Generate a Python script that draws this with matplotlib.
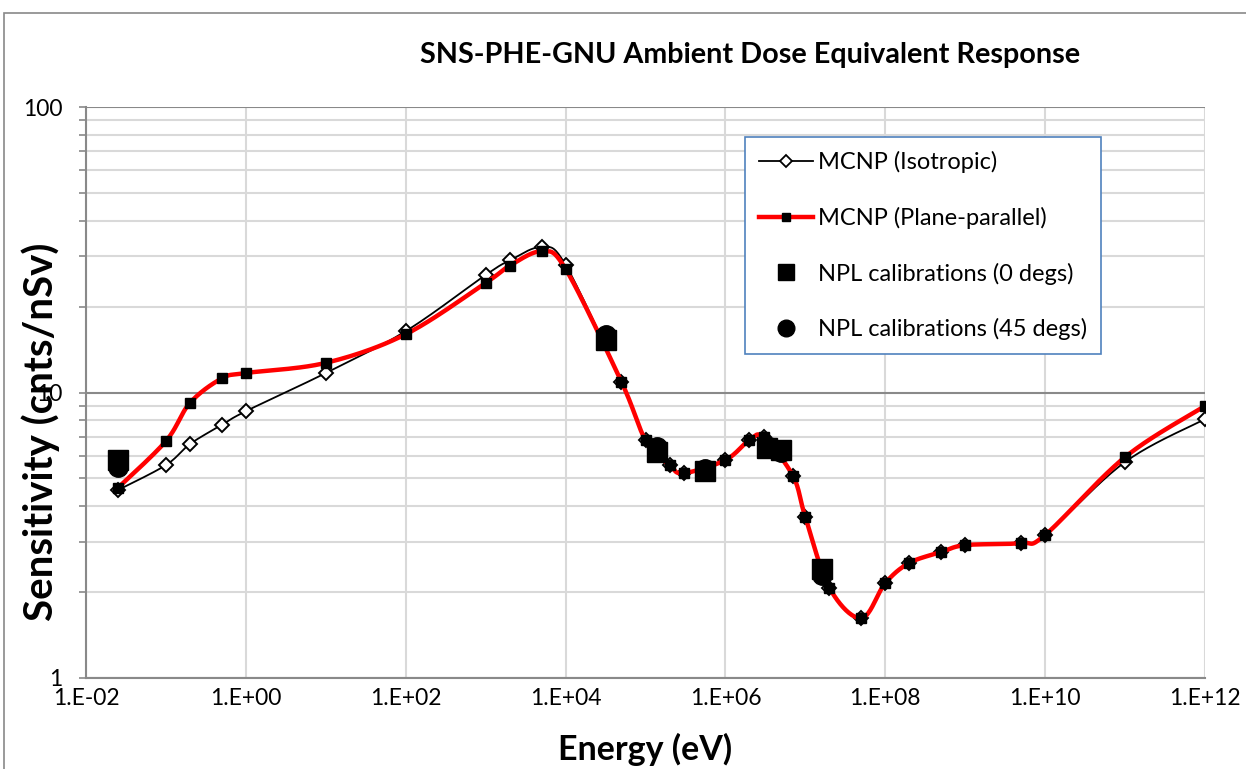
import numpy as np
import matplotlib
matplotlib.use('Agg')
import matplotlib.pyplot as plt
from matplotlib.lines import Line2D
from matplotlib.patches import Rectangle
from matplotlib.ticker import FixedLocator, FuncFormatter, NullFormatter

plt.rcParams['font.family'] = ['Lato', 'DejaVu Sans']

# MCNP isotropic response
iso_e = [0.025, 0.1, 0.2, 0.5, 1, 10, 100, 1e3, 2e3, 5e3, 1e4, 5e4, 1e5, 2e5, 3e5,
         1e6, 2e6, 3e6, 7e6, 1e7, 2e7, 5e7, 1e8, 2e8, 5e8, 1e9, 5e9, 1e10, 1e11, 1e12]
iso_r = [4.55, 5.57, 6.6, 7.7, 8.6, 11.7, 16.4, 25.8, 29.0, 32.3, 28.0, 10.9, 6.82, 5.57, 5.22,
         5.8, 6.82, 6.97, 5.1, 3.66, 2.07, 1.62, 2.15, 2.53, 2.76, 2.92, 2.97, 3.17, 5.71, 8.07]

# MCNP plane-parallel response
pp_e = iso_e
pp_r = [4.63, 6.76, 9.2, 11.2, 11.7, 12.7, 16.0, 24.2, 27.8, 31.2, 27.1, 10.9, 6.82, 5.57, 5.22,
        5.8, 6.82, 6.97, 5.1, 3.66, 2.07, 1.62, 2.15, 2.53, 2.76, 2.92, 2.97, 3.17, 5.94, 8.97]

# NPL calibrations
npl0_e = [0.025, 3.2e4, 1.41e5, 5.5e5, 3.3e6, 5e6, 1.6e7]
npl0_r = [5.8, 15.3, 6.2, 5.3, 6.4, 6.3, 2.41]
npl45_e = [0.025, 3.2e4, 1.41e5, 5.5e5, 3.3e6, 5e6, 1.6e7]
npl45_r = [5.48, 15.9, 6.45, 5.4, 6.5, 6.2, 2.3]


def smooth(x, y, n=24):
    # Excel-like smoothed line: cubic bezier through points in log-log space
    P = np.column_stack([np.log10(x), np.log10(y)])
    out = []
    for i in range(len(P) - 1):
        p0 = P[max(i - 1, 0)]
        p1 = P[i]
        p2 = P[i + 1]
        p3 = P[min(i + 2, len(P) - 1)]
        c1 = p1 + (p2 - p0) / 6
        c2 = p2 - (p3 - p1) / 6
        t = np.linspace(0, 1, n)[:, None]
        seg = (1 - t) ** 3 * p1 + 3 * (1 - t) ** 2 * t * c1 + 3 * (1 - t) * t ** 2 * c2 + t ** 3 * p2
        out.append(seg if i == 0 else seg[1:])
    out = np.vstack(out)
    return 10 ** out[:, 0], 10 ** out[:, 1]


fig = plt.figure(figsize=(12.46, 7.69), dpi=100)
ax = fig.add_axes([86 / 1246, 1 - 678 / 769, (1205 - 86) / 1246, (678 - 107) / 769])

ax.set_xscale('log')
ax.set_yscale('log')
ax.set_xlim(1e-2, 1e12)
ax.set_ylim(1, 100)

# grid
ax.xaxis.set_major_locator(FixedLocator(10.0 ** np.arange(-2, 13, 2)))
ax.xaxis.set_minor_locator(FixedLocator([]))
ax.xaxis.set_major_formatter(FuncFormatter(lambda v, p: '1.E%+03d' % int(round(np.log10(v)))))
ax.yaxis.set_major_locator(FixedLocator([1, 10, 100]))
ax.yaxis.set_minor_locator(FixedLocator([m * d for d in (1, 10) for m in range(2, 10)]))
ax.yaxis.set_major_formatter(FuncFormatter(lambda v, p: '%g' % v))
ax.yaxis.set_minor_formatter(NullFormatter())
ax.grid(True, axis='x', which='major', color='#d9d9d9', lw=1.5)
ax.grid(True, axis='y', which='minor', color='#d9d9d9', lw=1.5)
ax.grid(True, axis='y', which='major', color='#898989', lw=1.5)
ax.set_axisbelow(True)

for s in ['top', 'right']:
    ax.spines[s].set_visible(False)
ax.spines['left'].set_color('#898989')
ax.spines['bottom'].set_color('#898989')
ax.spines['left'].set_linewidth(1.5)
ax.spines['bottom'].set_linewidth(1.5)
ax.tick_params(axis='y', which='both', direction='out', color='#898989', length=5, width=1.2,
               labelsize=16.5, pad=12)
ax.tick_params(axis='x', which='both', length=0, labelsize=16.5, pad=7)

# data
sx, sy = smooth(iso_e, iso_r)
ax.plot(sx, sy, color='black', lw=1.3, zorder=3)
ax.plot(iso_e, iso_r, ls='none', marker='D', ms=7, mfc='white', mec='black', mew=1.4, zorder=3)

sx, sy = smooth(pp_e, pp_r)
ax.plot(sx, sy, color='#ff0000', lw=3.2, zorder=4)
ax.plot(pp_e, pp_r, ls='none', marker='s', ms=7, color='black', zorder=4)

ax.plot(npl45_e, npl45_r, ls='none', marker='o', ms=14, color='black', zorder=5)
ax.plot(npl0_e, npl0_r, ls='none', marker='s', ms=14, color='black', zorder=5)

handles = [
    Line2D([], [], color='black', lw=1.3, marker='D', ms=6, mfc='white', mec='black', mew=1.3),
    Line2D([], [], color='#ff0000', lw=3.2, marker='s', ms=6, mfc='black', mec='black'),
    Line2D([], [], ls='none', marker='s', ms=12, color='black'),
    Line2D([], [], ls='none', marker='o', ms=12, color='black'),
]
labels = ['MCNP (Isotropic)', 'MCNP (Plane-parallel)', 'NPL calibrations (0 degs)',
          'NPL calibrations (45 degs)']
leg = ax.legend(handles, labels, loc='upper left', bbox_to_anchor=(745 / 1246, 1 - 137 / 769),
                bbox_transform=fig.transFigure, fontsize=17, frameon=True, fancybox=False,
                edgecolor='#4f81bd', framealpha=1, labelspacing=1.42, handlelength=2.3,
                handletextpad=0.2, borderpad=0.6, borderaxespad=0)
leg.get_frame().set_linewidth(1.2)

fig.text(750 / 1246, 1 - 55 / 769, 'SNS-PHE-GNU Ambient Dose Equivalent Response',
         ha='center', va='center', fontsize=20.7, fontweight='bold')
fig.text(645 / 1246, 1 - 749 / 769, 'Energy (eV)', ha='center', va='center',
         fontsize=24.5, fontweight='bold')
fig.text(41 / 1246, 1 - 432 / 769, 'Sensitivity (cnts/nSv)', ha='center', va='center',
         rotation=90, fontsize=29, fontweight='bold')

fig.patches.append(Rectangle((4 / 1246, -0.05), 1.2, 1 - 13 / 769 + 0.05, transform=fig.transFigure,
                             fill=False, edgecolor='#898989', lw=1.2))

fig.savefig('out.png', dpi=100)
